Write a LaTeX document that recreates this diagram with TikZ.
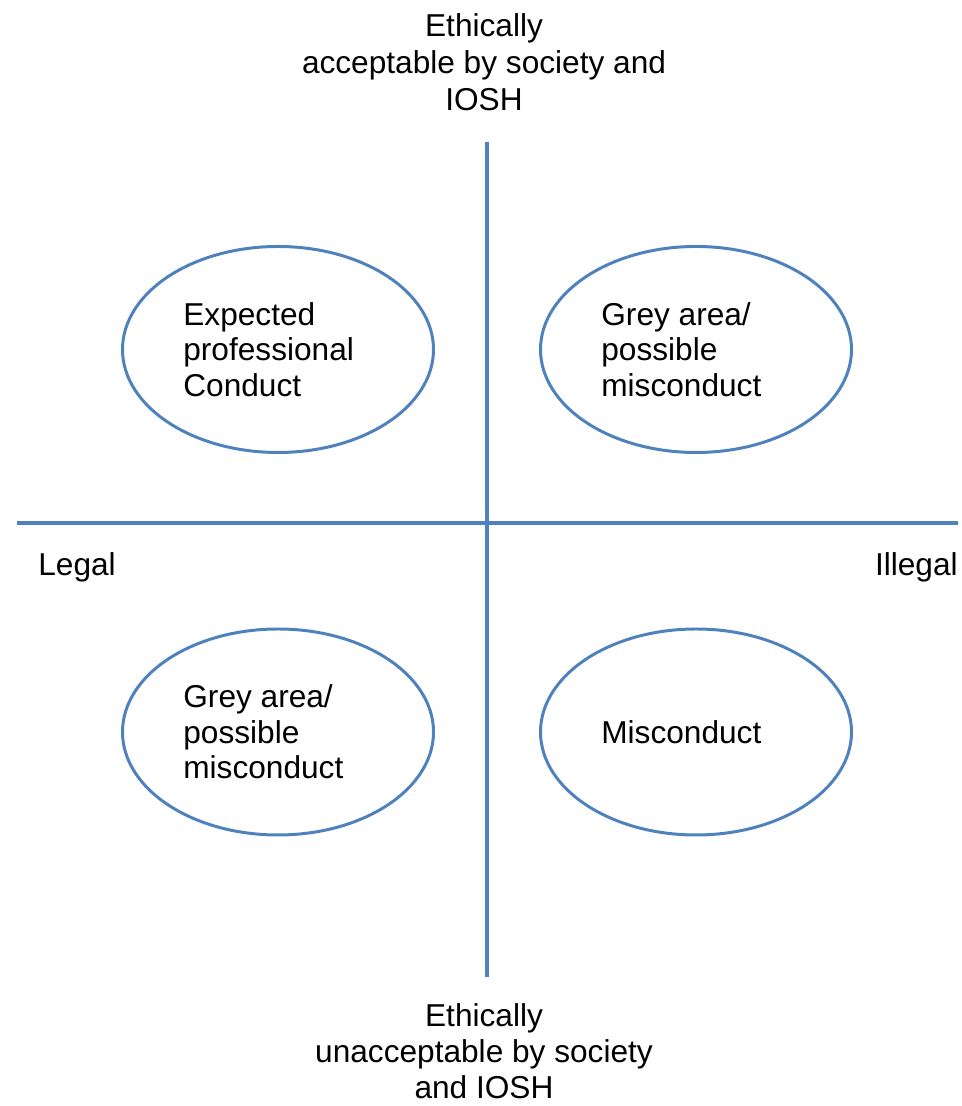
\documentclass[tikz,border=0pt]{standalone}
\usepackage{fontspec}
\setmainfont{Liberation Sans}
\usetikzlibrary{shapes.geometric}
\definecolor{AxisBlue}{RGB}{79, 129, 189}
\tikzstyle{axis} = [draw=AxisBlue, line width=2.3pt]
\tikzstyle{quadrant} = [ellipse, draw=AxisBlue, line width=1.7pt, minimum width=6.22cm, minimum height=4.12cm]
\tikzstyle{quadtext} = [align=left, anchor=west, inner sep=0pt, font=\fontsize{18}{20.3}\selectfont]
\tikzstyle{axislabel} = [align=center, inner sep=0pt, font=\fontsize{18}{21}\selectfont]

\begin{document}
\begin{tikzpicture}
\useasboundingbox (0,0) rectangle (19.22,22.12);

% Axes
\coordinate (vtop) at (9.74,19.28);
\coordinate (vbot) at (9.74,2.58);
\coordinate (hleft) at (0.34,11.66);
\coordinate (hright) at (19.16,11.66);
\draw [axis] (vtop) -- (vbot);
\draw [axis] (hleft) -- (hright);

% Quadrants
\node (tl) [quadrant] at (5.56,15.13) {};
\node (tr) [quadrant] at (13.92,15.13) {};
\node (bl) [quadrant] at (5.56,7.48) {};
\node (br) [quadrant] at (13.92,7.48) {};

\node (tltext) [quadtext] at ([xshift=1.24cm]tl.west) {Expected\\professional\\Conduct};
\node (trtext) [quadtext] at ([xshift=1.24cm]tr.west) {Grey area/\\possible\\misconduct};
\node (bltext) [quadtext] at ([xshift=1.24cm]bl.west) {Grey area/\\possible\\misconduct};
\node (brtext) [quadtext] at ([xshift=1.24cm]br.west) {Misconduct};

% Axis labels
\node (ethical) [axislabel] at (9.68,20.88) {Ethically\\acceptable by society and\\IOSH};
\node (unethical) [axislabel, font=\fontsize{18}{20.4}\selectfont] at (9.68,1.1) {Ethically\\unacceptable by society\\and IOSH};
\node (legal) [axislabel, anchor=west] at (0.76,10.78) {Legal};
\node (illegal) [axislabel, anchor=east] at (19.16,10.78) {Illegal};

\end{tikzpicture}
\end{document}
